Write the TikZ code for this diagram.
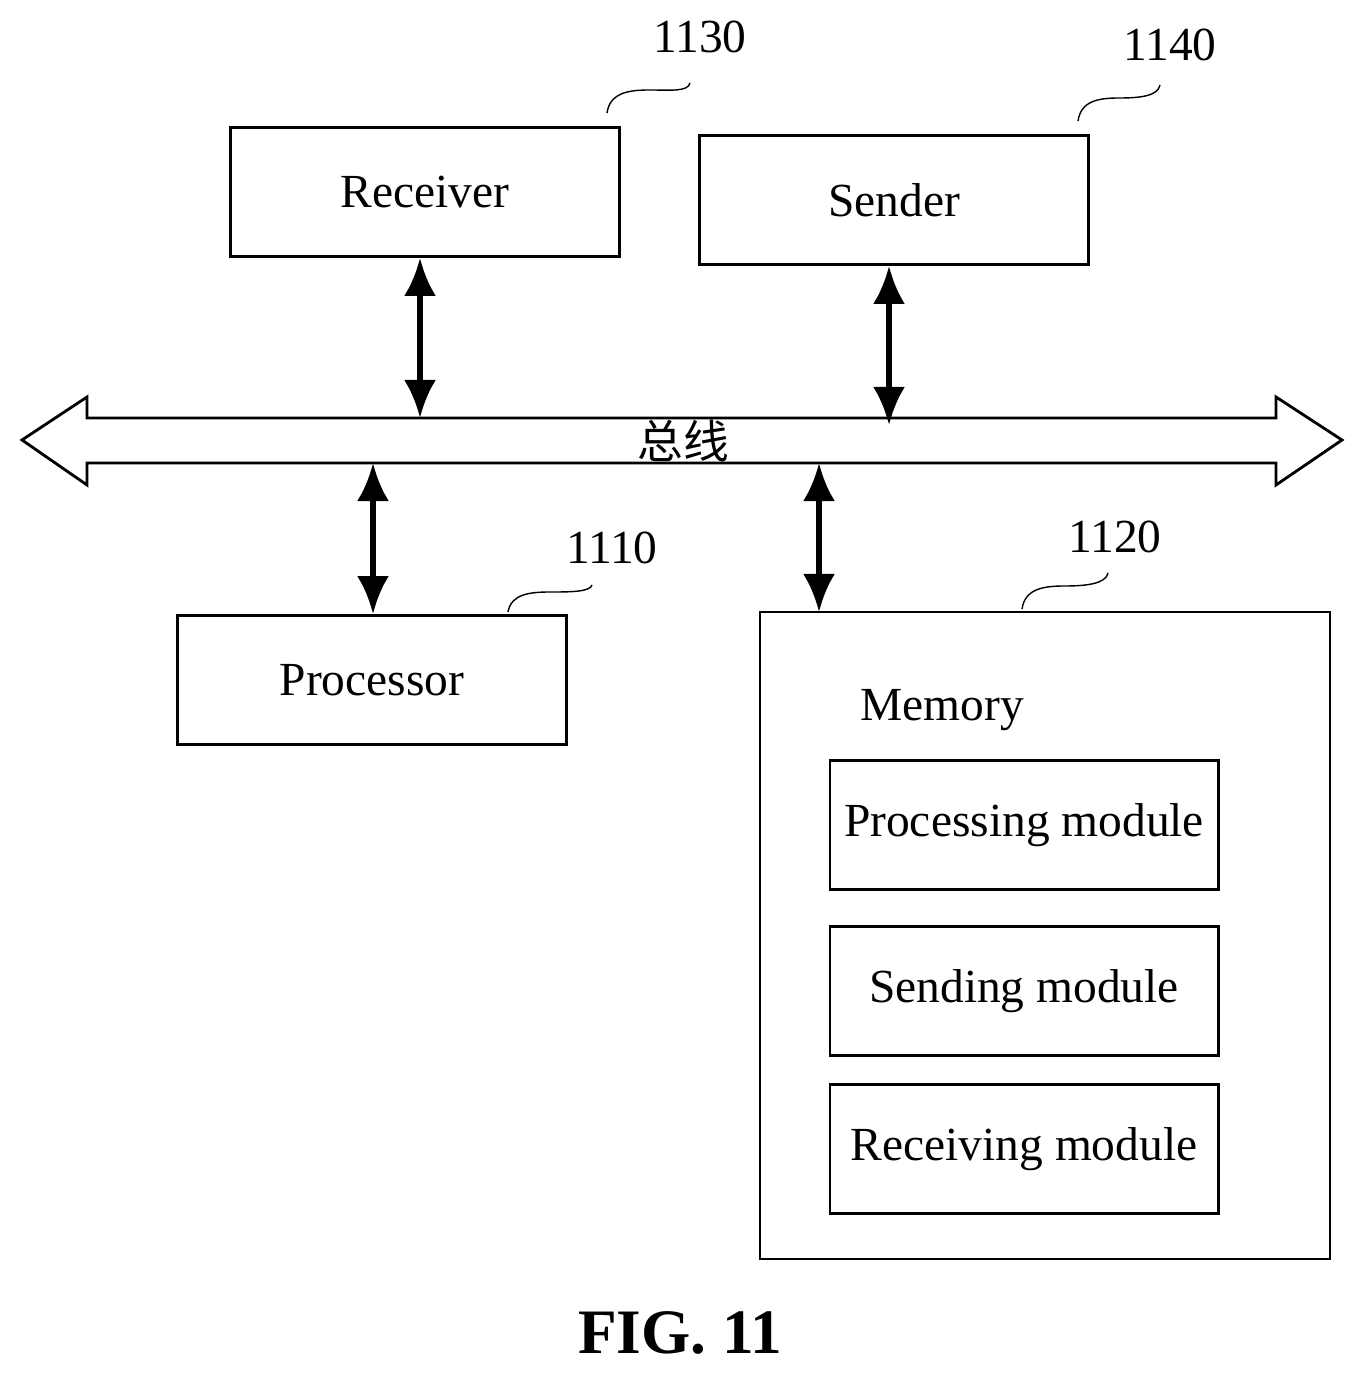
\documentclass[tikz,border=0pt]{standalone}
\usepackage{fontspec}
\setmainfont{Liberation Serif}
\newfontfamily\cjk{Noto Sans CJK SC}
\usetikzlibrary{arrows.meta}
\tikzset{
  box/.style={draw, thick, inner xsep=0pt, minimum width=3.88cm, minimum height=1.29cm, font=\fontsize{13.5}{16}\selectfont},
  bi/.style={line width=1.6pt, {Latex[length=0.38cm,width=0.32cm]}-{Latex[length=0.38cm,width=0.32cm]}},
  refnum/.style={font=\fontsize{13.5}{16}\selectfont},
}
\begin{document}
\begin{tikzpicture}[x=0.01cm,y=-0.01cm]
		\useasboundingbox (0,0) rectangle (1364,1374);
		% Boxes
		\node[box] (rx) at (425,192) {Receiver};
		\node[box] (tx) at (894,200) {Sender};
		\node[box] (cpu) at (372,680) {Processor};
		\draw[thick] (760,612) rectangle (1330,1259);
		\coordinate (mem) at (819,612);
		\node[font=\fontsize{13.5}{16}\selectfont] (memlbl) at (942,710) {Memory};
		\node[box] (m1) at (1024,825) {Processing module};
		\node[box] (m2) at (1024,991) {Sending module};
		\node[box] (m3) at (1024,1149) {Receiving module};
		
		% Bus
		\draw[thick] (22,440) -- (87,397) -- (87,418) -- (1276,418) -- (1276,397) -- (1342,440)
			-- (1276,485) -- (1276,463) -- (87,463) -- (87,485) -- cycle;
		\node[font=\cjk\fontsize{13}{16}\selectfont] (bus) at (683,441) {总线};
		
		% Connectors
		\draw[bi] (rx.south -| 420,0) -- (420,418);
		\draw[bi] (tx.south -| 889,0) -- (889,425);
		\draw[bi] (373,463) -- (cpu.north -| 373,0);
		\draw[bi] (819,463) -- (mem);
		
		% Reference numbers
		\node[refnum] (n1130) at (700,37) {1130};
		\node[refnum] (n1140) at (1170,45) {1140};
		\node[refnum] (n1110) at (612,548) {1110};
		\node[refnum] (n1120) at (1115,537) {1120};
		\draw (607,113) .. controls (610,92) and (630,90) .. (650,90) .. controls (670,90) and (688,92) .. (690,83);
		\draw (1078,121) .. controls (1081,100) and (1100,98) .. (1120,98) .. controls (1140,98) and (1158,96) .. (1160,85);
		\draw (508,612) .. controls (511,594) and (530,592) .. (550,592) .. controls (570,592) and (590,592) .. (592,585);
		\draw (1022,609) .. controls (1025,588) and (1045,586) .. (1065,586) .. controls (1085,586) and (1106,584) .. (1108,573);
		
		% Caption
		\node[font=\bfseries\fontsize{18}{22}\selectfont] (cap) at (680,1333) {FIG. 11};
	\end{tikzpicture}
\end{document}
